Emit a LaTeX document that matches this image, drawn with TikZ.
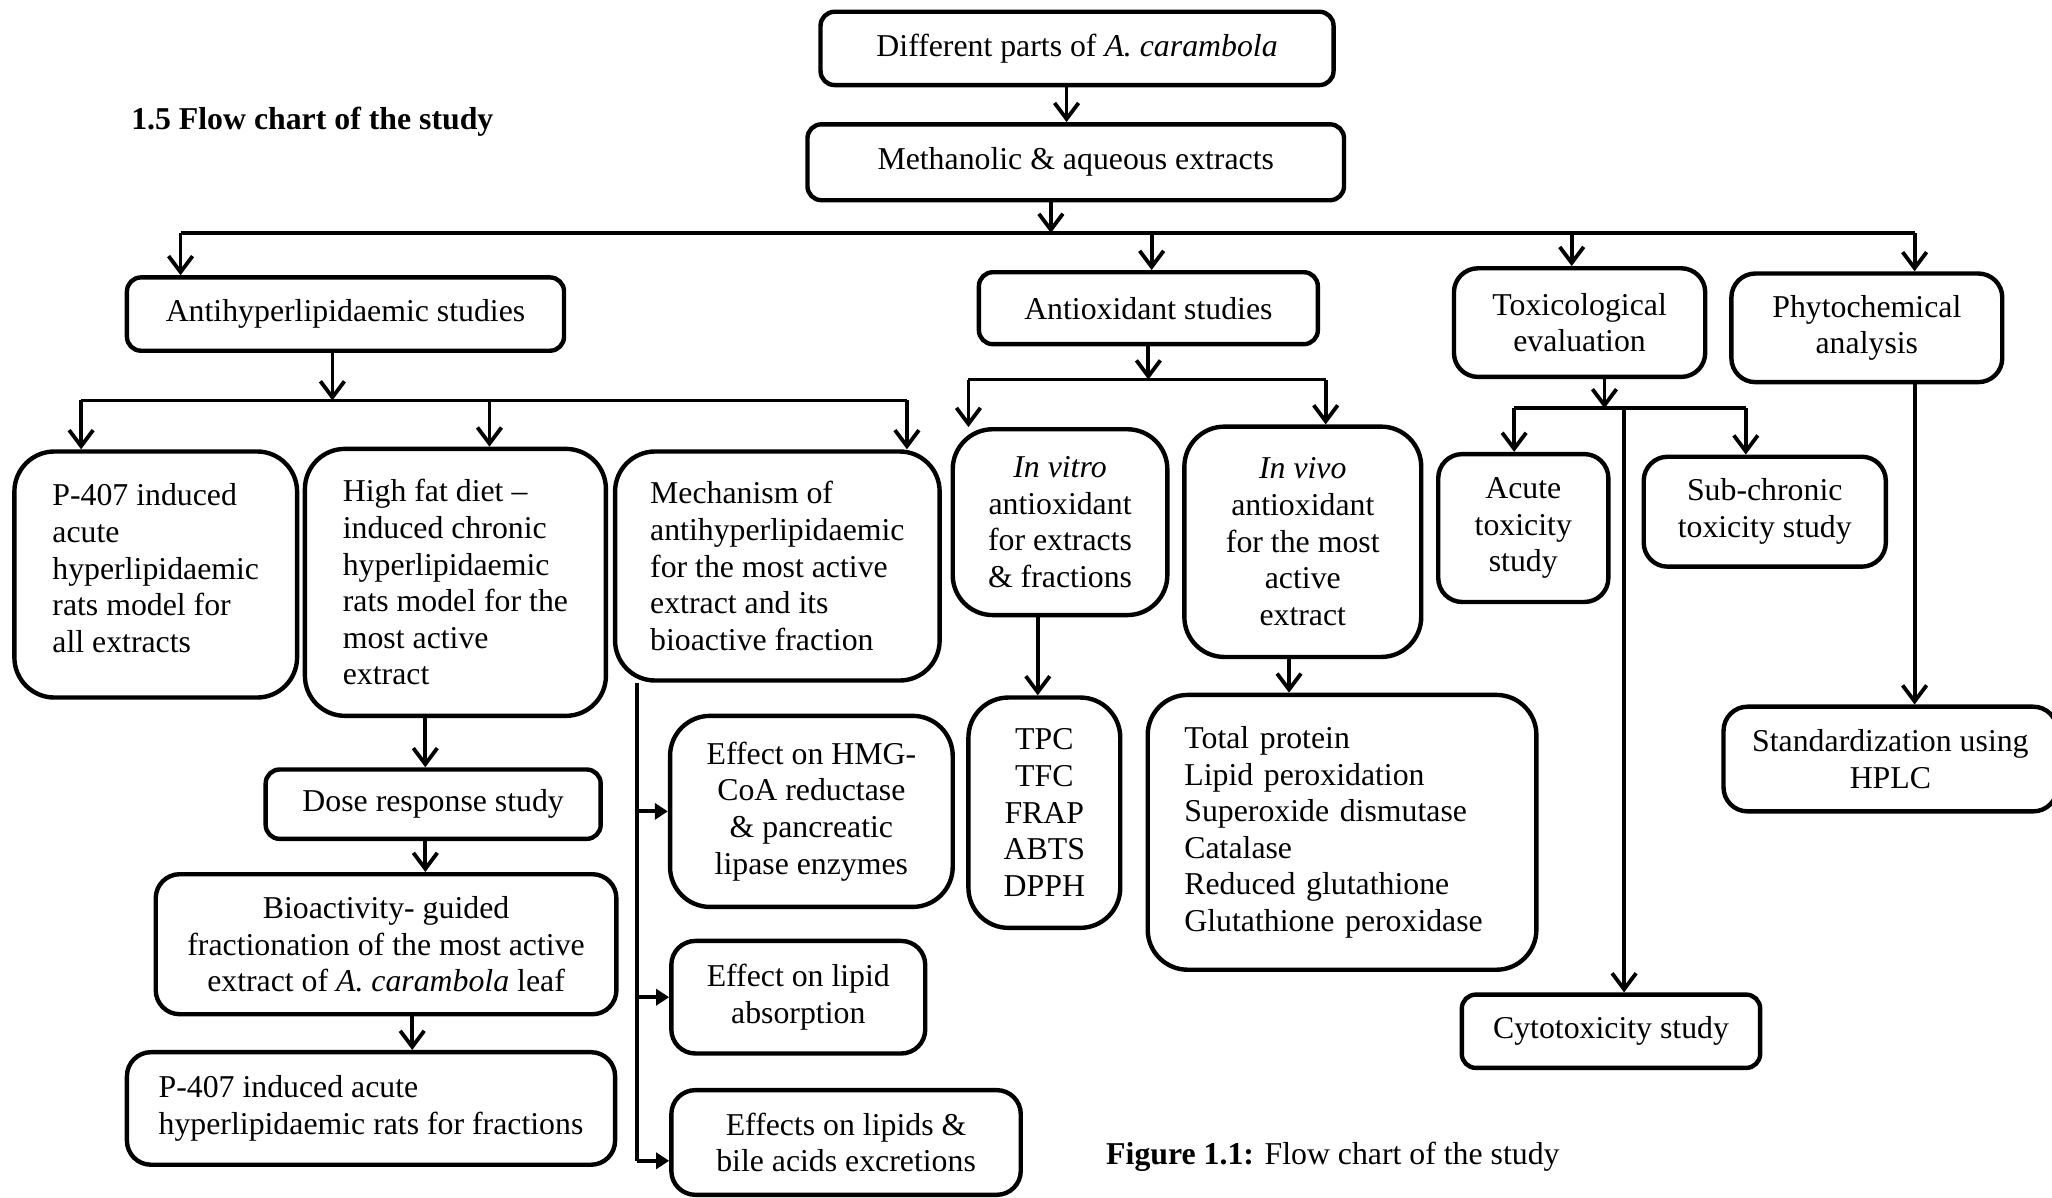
\documentclass[tikz,border=0pt]{standalone}
\usepackage{fontspec}
\setmainfont{Liberation Serif}
\usetikzlibrary{arrows.meta,calc}
\begin{document}
\begin{tikzpicture}[x=0.6544pt,y=-0.6544pt,
  txtfont/.style={font=\fontsize{15.9}{18.3}\selectfont},
  box/.style={draw, line width=2.2pt, inner sep=0pt, align=center, txtfont},
  sz/.style 2 args={minimum width=#1*0.6544pt, minimum height=#2*0.6544pt},
  rs/.style={rounded corners=7pt},
  rm/.style={rounded corners=12pt},
  rl/.style={rounded corners=20pt},
  ln/.style={line width=1.9pt},
  arr/.style={line width=1.9pt, -{Straight Barb[length=8pt,width=12pt,line width=1.9pt]}},
  farr/.style={line width=1.9pt, -{Triangle[length=6.5pt,width=8pt]}},
  plain/.style={inner sep=0pt, anchor=west, txtfont}
]
\useasboundingbox (0,0) rectangle (1568,915);

% ---- boxes ----
\node[box,rs,sz={392}{56}] (A) at (823,37) {Different parts of \textit{A. carambola}};
\node[box,rs,sz={410}{58}] (B) at (822,124) {Methanolic \& aqueous extracts};
\node[box,rs,sz={334}{56}] (AH) at (264,240) {Antihyperlipidaemic studies};
\node[box,rs,sz={259}{55}] (AO) at (877.5,235.5) {Antioxidant studies};
\node[box,rm,sz={192}{83}] (TOX) at (1207,246.5) {Toxicological\\evaluation};
\node[box,rm,sz={207}{83}] (PHY) at (1426.5,250.5) {Phytochemical\\analysis};

\node[box,rl,sz={216}{188},align=left] (P407) at (119,439) {P-407 induced\\acute\\hyperlipidaemic\\rats model for\\all extracts\rule[-6.5pt]{0pt}{0pt}};
\node[box,rl,sz={230}{204},align=left] (HFD) at (348,445) {High fat diet –\\induced chronic\\hyperlipidaemic\\rats model for the\\most active\\extract};
\node[box,rl,sz={248}{175},align=left] (MECH) at (594,432.5) {Mechanism of\\antihyperlipidaemic\\for the most active\\extract and its\\bioactive fraction};
\node[box,rl,sz={164}{142}] (VITRO) at (810,399) {\textit{In vitro}\\antioxidant\\for extracts\\\& fractions};
\node[box,rl,sz={181}{176}] (VIVO) at (995.5,414) {\textit{In vivo}\\antioxidant\\for the most\\active\\extract};
\node[box,rm,sz={130}{113}] (ACUTE) at (1164,403.5) {Acute\\toxicity\\study};
\node[box,rm,sz={185}{84}] (SUB) at (1348.5,391) {Sub-chronic\\toxicity study};
\node[box,rm,sz={255}{80}] (STD) at (1444.5,580) {Standardization using\\HPLC};

\node[box,rs,sz={256}{53}] (DOSE) at (331,614.5) {Dose response study};
\node[box,rm,sz={352}{107}] (BIO) at (295,721.5) {Bioactivity- guided\\fractionation of the most active\\extract of \textit{A. carambola} leaf};
\node[box,rm,sz={373}{86},align=left] (P407F) at (283.5,847) {P-407 induced acute\\hyperlipidaemic rats for fractions};

\node[box,rl,sz={216}{146}] (HMG) at (620,620) {Effect on HMG-\\CoA reductase\\\& pancreatic\\lipase enzymes};
\node[box,rm,sz={194}{86}] (LIP) at (610,762) {Effect on lipid\\absorption};
\node[box,rm,sz={267}{80}] (BILE) at (646.5,873) {Effects on lipids \&\\bile acids excretions};

\node[box,rl,sz={116}{176}] (TPC) at (798,621) {TPC\\TFC\\FRAP\\ABTS\\DPPH};
\node[box,rl,sz={297}{210},align=left,text width=157.7pt] (TP) at (1025.5,636) {Total protein\\Lipid peroxidation\\Superoxide dismutase\\Catalase\\Reduced glutathione\\Glutathione peroxidase};
\node[box,rs,sz={228}{56}] (CYTO) at (1231,788) {Cytotoxicity study};

% ---- free texts ----
\node[plain,font=\fontsize{15.9}{18.3}\selectfont\bfseries] (title) at (100,93) {1.5 Flow chart of the study};
\node[plain] (cap) at (845,884) {\textbf{Figure 1.1:} Flow chart of the study};

% ---- connectors ----
\draw[arr] ($(A.south)+(-8,0)$) coordinate (t0) -- (t0 |- B.north);

\coordinate (m1) at (138,178);
\coordinate (m2) at (1463,178);
\draw[arr] ($(B.south)+(-19,0)$) coordinate (tb) -- (tb |- m1);
\draw[ln] (m1) -- (m2);
\draw[arr] (m1) -- (m1 |- AH.north);
\path ($(AO.north)+(2.5,0)$) coordinate (tao);
\draw[arr] (tao |- m1) -- (tao);
\path ($(TOX.north)+(-6,0)$) coordinate (ttox);
\draw[arr] (ttox |- m1) -- (ttox);
\draw[arr] (m2) -- (m2 |- PHY.north);

% antihyperlipidaemic branch
\coordinate (l2a) at (62,306);
\coordinate (l2b) at (693,306);
\draw[arr] ($(AH.south)+(-10,0)$) coordinate (tah) -- (tah |- l2a);
\draw[ln] (l2a) -- (l2b);
\draw[arr] (l2a) -- (l2a |- P407.north);
\path ($(HFD.north)+(26,0)$) coordinate (thf);
\draw[arr] (thf |- l2a) -- (thf);
\draw[arr] (l2b) -- (l2b |- MECH.north);

% antioxidant branch
\coordinate (l3a) at (740,290);
\coordinate (l3b) at (1013,290);
\draw[arr] (AO.south) -- (AO.south |- l3a);
\draw[ln] (l3a) -- (l3b);
\draw[arr] (l3a) -- (l3a |- VITRO.north);
\draw[arr] (l3b) -- (l3b |- VIVO.north);

% toxicological branch
\coordinate (l4a) at (1157,312);
\coordinate (l4b) at (1334,312);
\coordinate (l4c) at (1241,312);
\draw[arr] ($(TOX.south)+(19,0)$) coordinate (ttx) -- (ttx |- l4a);
\draw[ln] (l4a) -- (l4b);
\draw[arr] (l4a) -- (l4a |- ACUTE.north);
\draw[arr] (l4b) -- (l4b |- SUB.north);
\draw[arr] (l4c) -- (l4c |- CYTO.north);

% phytochemical
\draw[arr] (m2 |- PHY.south) -- (m2 |- STD.north);

% chronic chain
\path ($(HFD.south)+(-23,0)$) coordinate (thd);
\draw[arr] (thd) -- (thd |- DOSE.north);
\draw[arr] (thd |- DOSE.south) -- (thd |- BIO.north);
\path ($(BIO.south)+(20,0)$) coordinate (tbio);
\draw[arr] (tbio) -- (tbio |- P407F.north);

% mechanism
\coordinate (mv) at (487,887);
\draw[ln] (mv |- MECH.south) -- (mv);
\draw[farr] (mv |- HMG.west) -- (HMG.west);
\draw[farr] (mv |- LIP.west) -- (LIP.west);
\draw[farr] (mv) -- (mv -| BILE.west);

% antioxidant sub
\path ($(VITRO.south)+(-17,0)$) coordinate (tvi);
\draw[arr] (tvi) -- (tvi |- TPC.north);
\path ($(VIVO.south)+(-10.5,0)$) coordinate (tvv);
\draw[arr] (tvv) -- (tvv |- TP.north);
\end{tikzpicture}
\end{document}
